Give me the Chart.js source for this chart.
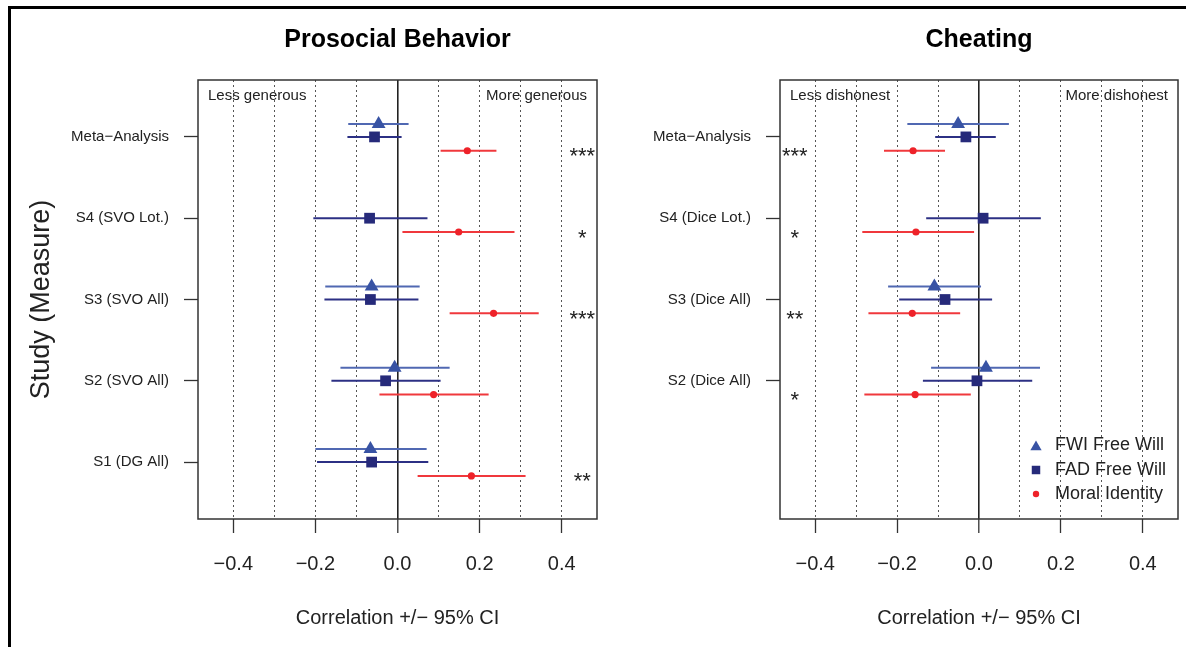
<!DOCTYPE html>
<html>
<head>
<meta charset="utf-8">
<script src="https://cdn.jsdelivr.net/npm/chart.js@4.4.0/dist/chart.umd.min.js"></script>
<style>
html, body { margin: 0; padding: 0; background: #fff; }
body { width: 1186px; height: 647px; position: relative; overflow: hidden; }
#frame { position: absolute; left: 8px; top: 6px; width: 1200px; height: 700px; border-top: 3px solid #000; border-left: 3px solid #000; }
.panel { position: absolute; top: 0; height: 647px; }
#wrapPro { left: 0; width: 605px; }
#wrapCheat { left: 600px; width: 586px; }
</style>
</head>
<body>
<div id="frame"></div>
<div class="panel" id="wrapCheat"><canvas id="chartCheat" width="586" height="647"></canvas></div>
<div class="panel" id="wrapPro"><canvas id="chartPro" width="605" height="647"></canvas></div>
<script>
// values (correlation and 95% CI)
const FONT = "'Liberation Sans', Arial, Helvetica, sans-serif";
const INK = '#222';

const xTicks = [-0.4, -0.3, -0.2, -0.1, 0, 0.1, 0.2, 0.3, 0.4];
const xTickLabels = ['−0.4', '', '−0.2', '', '0.0', '', '0.2', '', '0.4'];

// prosocial behavior
const proRows = [5, 4, 3, 2, 1];
const proLabels = ['Meta−Analysis', 'S4 (SVO Lot.)', 'S3 (SVO All)', 'S2 (SVO All)', 'S1 (DG All)'];
const proFwi   = [-0.046, null, -0.063, -0.007, -0.066];
const proFwiLo = [-0.120, null, -0.176, -0.139, -0.200];
const proFwiHi = [ 0.027, null,  0.054,  0.127,  0.071];
const proFad   = [-0.056, -0.068, -0.066, -0.029, -0.063];
const proFadLo = [-0.122, -0.205, -0.178, -0.161, -0.196];
const proFadHi = [ 0.010,  0.073,  0.051,  0.105,  0.075];
const proMi    = [0.170, 0.149, 0.234,  0.088, 0.180];
const proMiLo  = [0.105, 0.012, 0.127, -0.044, 0.049];
const proMiHi  = [0.241, 0.285, 0.344,  0.222, 0.312];
const proStars = ['***', '*', '***', '', '**'];

// cheating
const cheatRows = [5, 4, 3, 2];
const cheatLabels = ['Meta−Analysis', 'S4 (Dice Lot.)', 'S3 (Dice All)', 'S2 (Dice All)'];
const cheatFwi   = [-0.051, null, -0.109,  0.017];
const cheatFwiLo = [-0.175, null, -0.222, -0.117];
const cheatFwiHi = [ 0.073, null,  0.005,  0.149];
const cheatFad   = [-0.032,  0.010, -0.083, -0.005];
const cheatFadLo = [-0.107, -0.129, -0.195, -0.137];
const cheatFadHi = [ 0.041,  0.151,  0.032,  0.130];
const cheatMi    = [-0.161, -0.154, -0.163, -0.156];
const cheatMiLo  = [-0.232, -0.285, -0.270, -0.280];
const cheatMiHi  = [-0.083, -0.012, -0.046, -0.020];
const cheatStars = ['***', '*', '**', '*'];

const seriesNames = ['FWI Free Will', 'FAD Free Will', 'Moral Identity'];

// series look (offset = vertical shift inside a row)
const looks = [
  { style: 'triangle', radius: 8,   color: '#3853a4', line: '#5068b2', offset: 0.16,  legendR: 6.5 },
  { style: 'rect',     radius: 7.6, color: '#262a7a', line: '#2c3084', offset: 0,     legendR: 6 },
  { style: 'circle',   radius: 3.6, color: '#ee2229', line: '#f0383c', offset: -0.17, legendR: 3.2 }
];

function makeDatasets(rows, series) {
  const ds = [];
  series.forEach((s, k) => {
    const lk = looks[k];
    const pts = [];
    rows.forEach((r, i) => {
      if (s.est[i] == null) return;
      const y = r + lk.offset;
      pts.push({ x: s.est[i], y: y });
      ds.push({
        data: [{ x: s.lo[i], y: y }, { x: s.hi[i], y: y }],
        showLine: true, borderColor: lk.line, borderWidth: 2,
        pointRadius: 0, order: 2
      });
    });
    ds.push({
      label: seriesNames[k], data: pts, pointStyle: lk.style, pointRadius: lk.radius,
      backgroundColor: lk.color, borderColor: lk.color, borderWidth: 0, order: 1
    });
  });
  return ds;
}

// box, corner texts, stars and legend
const extras = {
  id: 'extras',
  afterDatasetsDraw(chart, args, o) {
    const ctx = chart.ctx;
    const a = chart.chartArea;
    const xs = chart.scales.x, ys = chart.scales.y;
    ctx.save();
    ctx.strokeStyle = '#333';
    ctx.lineWidth = 1.5;
    ctx.strokeRect(a.left, a.top, a.right - a.left, a.bottom - a.top);

    ctx.fillStyle = INK;
    ctx.font = '15px ' + FONT;
    ctx.textBaseline = 'middle';
    ctx.textAlign = 'left';
    ctx.fillText(o.corner[0], a.left + 10, a.top + 16);
    ctx.textAlign = 'right';
    ctx.fillText(o.corner[1], a.right - 10, a.top + 16);

    ctx.font = '22px ' + FONT;
    ctx.textAlign = 'center';
    ctx.textBaseline = 'alphabetic';
    o.rows.forEach((r, i) => {
      if (!o.stars[i]) return;
      ctx.fillText(o.stars[i], xs.getPixelForValue(o.starX), ys.getPixelForValue(r + looks[2].offset) + 12.5);
    });

    if (o.legend) {
      const mx = a.right - 142;
      const yy = [a.bottom - 74, a.bottom - 49, a.bottom - 25];
      ctx.font = '18px ' + FONT;
      ctx.textAlign = 'left';
      ctx.textBaseline = 'middle';
      seriesNames.forEach((name, k) => {
        ctx.fillStyle = looks[k].color;
        Chart.helpers.drawPoint(ctx, { pointStyle: looks[k].style, radius: looks[k].legendR, rotation: 0, borderWidth: 0 },
          mx, yy[k] + (k === 0 ? 2 : 0));
        ctx.fillStyle = INK;
        ctx.fillText(name, mx + 19, yy[k]);
      });
    }
    ctx.restore();
  }
};

function buildChart(id, cfg) {
  return new Chart(document.getElementById(id), {
    type: 'scatter',
    data: { datasets: makeDatasets(cfg.rows, cfg.series) },
    plugins: [extras],
    options: {
      responsive: false,
      animation: false,
      events: [],
      layout: { padding: { left: 0, right: cfg.rightPad, top: 0, bottom: 0 } },
      scales: {
        x: {
          type: 'linear', min: -0.486, max: 0.486,
          afterBuildTicks: sc => { sc.ticks = xTicks.map(v => ({ value: v })); },
          afterFit: sc => { sc.height = 128; },
          ticks: {
            autoSkip: false, maxRotation: 0, padding: 19, color: INK,
            font: { family: FONT, size: 20 },
            callback: (v) => xTickLabels[xTicks.indexOf(v)]
          },
          grid: {
            color: ctx => (ctx.tick && ctx.tick.value === 0) ? '#222' : '#555',
            lineWidth: ctx => (ctx.tick && ctx.tick.value === 0) ? 1.6 : 1,
            tickLength: 14,
            tickWidth: 1.3,
            tickColor: ctx => (ctx.tick && xTickLabels[xTicks.indexOf(ctx.tick.value)]) ? '#333' : 'rgba(0,0,0,0)'
          },
          border: { display: false, dash: ctx => (ctx.tick && ctx.tick.value === 0) ? [] : [2, 3] },
          title: {
            display: true, text: 'Correlation +/− 95% CI', color: INK,
            font: { family: FONT, size: 20 }, padding: { top: 0, bottom: 17 }
          }
        },
        y: {
          type: 'linear', min: 0.3, max: 5.7,
          afterBuildTicks: sc => { sc.ticks = cfg.rows.map(v => ({ value: v })); },
          afterFit: sc => { sc.width = cfg.axisWidth; },
          ticks: {
            autoSkip: false, padding: 15, color: INK,
            font: { family: FONT, size: 15 },
            callback: (v) => cfg.labels[cfg.rows.indexOf(v)]
          },
          grid: { drawOnChartArea: false, tickLength: 14, tickWidth: 1.3, tickColor: '#333' },
          border: { display: false },
          title: {
            display: !!cfg.yTitle, text: cfg.yTitle || '', color: INK,
            font: { family: FONT, size: 27 }, padding: { top: 25, bottom: 0 }
          }
        }
      },
      plugins: {
        legend: { display: false },
        tooltip: { enabled: false },
        title: {
          display: true, text: cfg.title, fullSize: false, color: '#000',
          font: { family: FONT, size: 25, weight: 'bold' }, padding: { top: 25, bottom: 25 }
        },
        extras: { corner: cfg.corner, rows: cfg.rows, stars: cfg.stars, starX: cfg.starX, legend: cfg.legend }
      }
    }
  });
}

buildChart('chartPro', {
  title: 'Prosocial Behavior', yTitle: 'Study (Measure)',
  rows: proRows, labels: proLabels, stars: proStars, starX: 0.45,
  corner: ['Less generous', 'More generous'],
  axisWidth: 198, rightPad: 3, legend: false,
  series: [
    { est: proFwi, lo: proFwiLo, hi: proFwiHi },
    { est: proFad, lo: proFadLo, hi: proFadHi },
    { est: proMi, lo: proMiLo, hi: proMiHi }
  ]
});

buildChart('chartCheat', {
  title: 'Cheating', yTitle: '',
  rows: cheatRows, labels: cheatLabels, stars: cheatStars, starX: -0.45,
  corner: ['Less dishonest', 'More dishonest'],
  axisWidth: 180, rightPad: 6, legend: true,
  series: [
    { est: cheatFwi, lo: cheatFwiLo, hi: cheatFwiHi },
    { est: cheatFad, lo: cheatFadLo, hi: cheatFadHi },
    { est: cheatMi, lo: cheatMiLo, hi: cheatMiHi }
  ]
});
</script>
</body>
</html>
